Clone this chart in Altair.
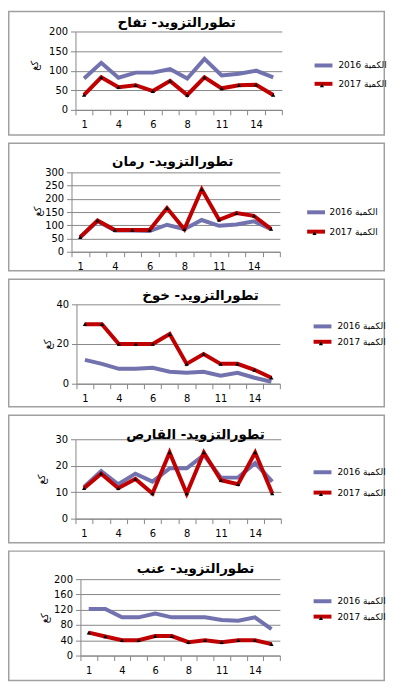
import altair as alt
import pandas as pd

# ---------------- data ----------------
days = [1, 2, 4, 5, 6, 7, 8, 9, 11, 12, 14, 15]
shown_days = [1, 4, 6, 8, 11, 14]
series_names = ["الكمية 2016", "الكمية 2017"]
y_title = "كغ"
titles = [
    "تطورالتزويد- تفاح",
    "تطورالتزويد- رمان",
    "تطورالتزويد- خوخ",
    "تطورالتزويد- القارص",
    "تطورالتزويد- عنب",
]

apple_2016 = [80, 120, 82, 95, 95, 104, 80, 130, 88, 92, 100, 83]
apple_2017 = [38, 83, 58, 63, 48, 74, 38, 83, 55, 63, 64, 38]

pomegranate_2016 = [55, 115, 80, 80, 78, 102, 85, 120, 98, 103, 115, 85]
pomegranate_2017 = [55, 118, 82, 82, 82, 165, 85, 236, 121, 146, 136, 86]

peach_2016 = [12, 10, 7.5, 7.5, 8, 6, 5.5, 6, 4, 5.5, 3, 1]
peach_2017 = [30, 30, 20, 20, 20, 25, 10, 15, 10, 10, 7, 3]

garas_2016 = [12, 18, 13, 17, 14, 19, 19, 24, 15.5, 15.5, 21, 14]
garas_2017 = [11.5, 17, 11.5, 15, 9.5, 25, 9.5, 25, 14.5, 13, 25, 9.5]

grape_2016 = [122, 122, 100, 100, 110, 100, 100, 100, 93, 91, 100, 69]
grape_2017 = [60, 50, 40, 40, 51, 51, 35, 40, 35, 40, 40, 30]

series_2016 = [apple_2016, pomegranate_2016, peach_2016, garas_2016, grape_2016]
series_2017 = [apple_2017, pomegranate_2017, peach_2017, garas_2017, grape_2017]

y_ticks = [
    [0, 50, 100, 150, 200],
    [0, 50, 100, 150, 200, 250, 300],
    [0, 20, 40],
    [0, 10, 20, 30],
    [0, 40, 80, 120, 160, 200],
]

# ---------------- layout / style ----------------
COL16 = "#7272AE"
COL17 = "#C00000"
GRID = "#878787"
BORDER = "#a0a0a0"
FONT = "DejaVu Sans"

X0 = 72          # common group origin (absolute px)
GW = 212         # common group width
BOX_L, BOX_R = 8, 388
SW = 1.5         # border stroke width
ENTRY_H = 16.5   # legend entry height (measured)

# absolute page positions
layouts = [
    dict(left=76, right=284, top=29, h=79, box=(8, 134), tcx=178, tby=24,
         ytx=35, yty=63, sym=324, rows=(65, 83), lab=337),
    dict(left=72, right=282, top=171, h=80, box=(141, 271), tcx=174, tby=165,
         ytx=38, yty=210, sym=316.5, rows=(213, 232), lab=328),
    dict(left=77, right=282, top=304, h=80, box=(278, 408), tcx=202, tby=300,
         ytx=48, yty=344, sym=323, rows=(328, 343), lab=336),
    dict(left=76, right=283, top=440, h=80, box=(415, 545), tcx=197, tby=440,
         ytx=42, yty=480, sym=323, rows=(475, 495), lab=336),
    dict(left=81, right=282, top=581, h=77, box=(552, 684), tcx=197, tby=575,
         ytx=45, yty=620, sym=323, rows=(605, 620), lab=336),
]

label_expr = "indexof(%s, datum.value) >= 0 ? datum.label : ''" % str(shown_days)


def make_panel(i):
    L = layouts[i]
    v16 = series_2016[i]
    v17 = series_2017[i]
    df = pd.DataFrame({
        "day": days + days,
        "series": [series_names[0]] * len(days) + [series_names[1]] * len(days),
        "value": v16 + v17,
    })
    df17 = df[df["series"] == series_names[1]]
    ticks = y_ticks[i]
    xl = L["left"] - X0
    xr = L["right"] - X0

    x_enc = alt.X(
        "day:O",
        sort=days,
        scale=alt.Scale(type="band", paddingInner=0, paddingOuter=0, range=[xl, xr]),
        axis=alt.Axis(
            title=None, tickBand="extent", labelExpr=label_expr, labelAngle=0,
            labelFont=FONT, labelFontSize=10, labelColor="black", labelPadding=5,
            tickColor=GRID, tickSize=5, domainColor=GRID, grid=False,
            labelOverlap=False,
        ),
    )
    y_enc = alt.Y(
        "value:Q",
        scale=alt.Scale(domain=[ticks[0], ticks[-1]], nice=False, zero=True),
        axis=alt.Axis(
            values=ticks, grid=True, gridColor=GRID, domainColor=GRID,
            tickColor=GRID, tickSize=5, labelFont=FONT, labelFontSize=10,
            labelColor="black", labelPadding=3, title=y_title, titleFont=FONT,
            titleFontSize=10, titleFontWeight="normal", titleColor="black",
            titleX=L["ytx"] - L["left"], titleY=L["yty"] - L["top"],
            titleAlign="center", titleBaseline="middle", offset=-xl,
        ),
    )

    row1 = L["rows"][0] - L["top"]
    row2 = L["rows"][1] - L["top"]

    y0, y1 = L["box"]
    border = alt.Chart(pd.DataFrame({"k": [0]})).mark_rect(
        fill="white", fillOpacity=0, stroke=BORDER, strokeWidth=SW
    ).encode(
        x=alt.value(BOX_L - X0 + SW / 2), x2=alt.value(BOX_R - X0 - SW / 2),
        y=alt.value(y0 - L["top"] + SW / 2), y2=alt.value(y1 - L["top"] - SW / 2),
    )

    title = alt.Chart(pd.DataFrame({"t": [titles[i]]})).mark_text(
        font=FONT, fontSize=13.5, fontWeight="bold", color="black",
        align="center", baseline="alphabetic",
    ).encode(
        text="t:N",
        x=alt.value(L["tcx"] - X0),
        y=alt.value(L["tby"] - L["top"]),
    )

    lx = L["sym"] - X0 - 4.5
    lines = alt.Chart(df).mark_line(strokeWidth=4).encode(
        x=x_enc, y=y_enc,
        color=alt.Color(
            "series:N",
            scale=alt.Scale(domain=series_names, range=[COL16, COL17]),
            legend=alt.Legend(
                title=None, orient="none", legendX=lx, legendY=row1 - ENTRY_H / 2,
                symbolType="M-2,0H2", symbolSize=81, symbolStrokeWidth=4,
                labelFont=FONT, labelFontSize=9, labelColor="black",
                labelOffset=L["lab"] - (L["sym"] + 4.5),
                rowPadding=(row2 - row1) - ENTRY_H, padding=0,
            ),
        ),
    )

    pts = alt.Chart(df17).mark_point(filled=True, size=18, opacity=1, color="black").encode(
        x=x_enc, y=y_enc,
        shape=alt.Shape(
            "series:N",
            scale=alt.Scale(domain=[series_names[1]], range=["triangle-up"]),
            legend=alt.Legend(
                title=None, orient="none", legendX=L["sym"] - X0 - 2.1,
                legendY=row2 - 2.1, labelExpr="''", labelFontSize=1, symbolSize=18,
                symbolFillColor="black", symbolStrokeWidth=0, padding=0,
            ),
        ),
    )

    return alt.layer(border, title, lines, pts).properties(
        width=GW, height=L["h"],
    ).resolve_scale(color="independent", shape="independent")


chart = alt.vconcat(*[make_panel(i) for i in range(5)], spacing=7).properties(
    padding=0, background="white"
).configure_view(stroke=None)

chart.save("out.html", embed_options={"renderer": "svg", "actions": False})
